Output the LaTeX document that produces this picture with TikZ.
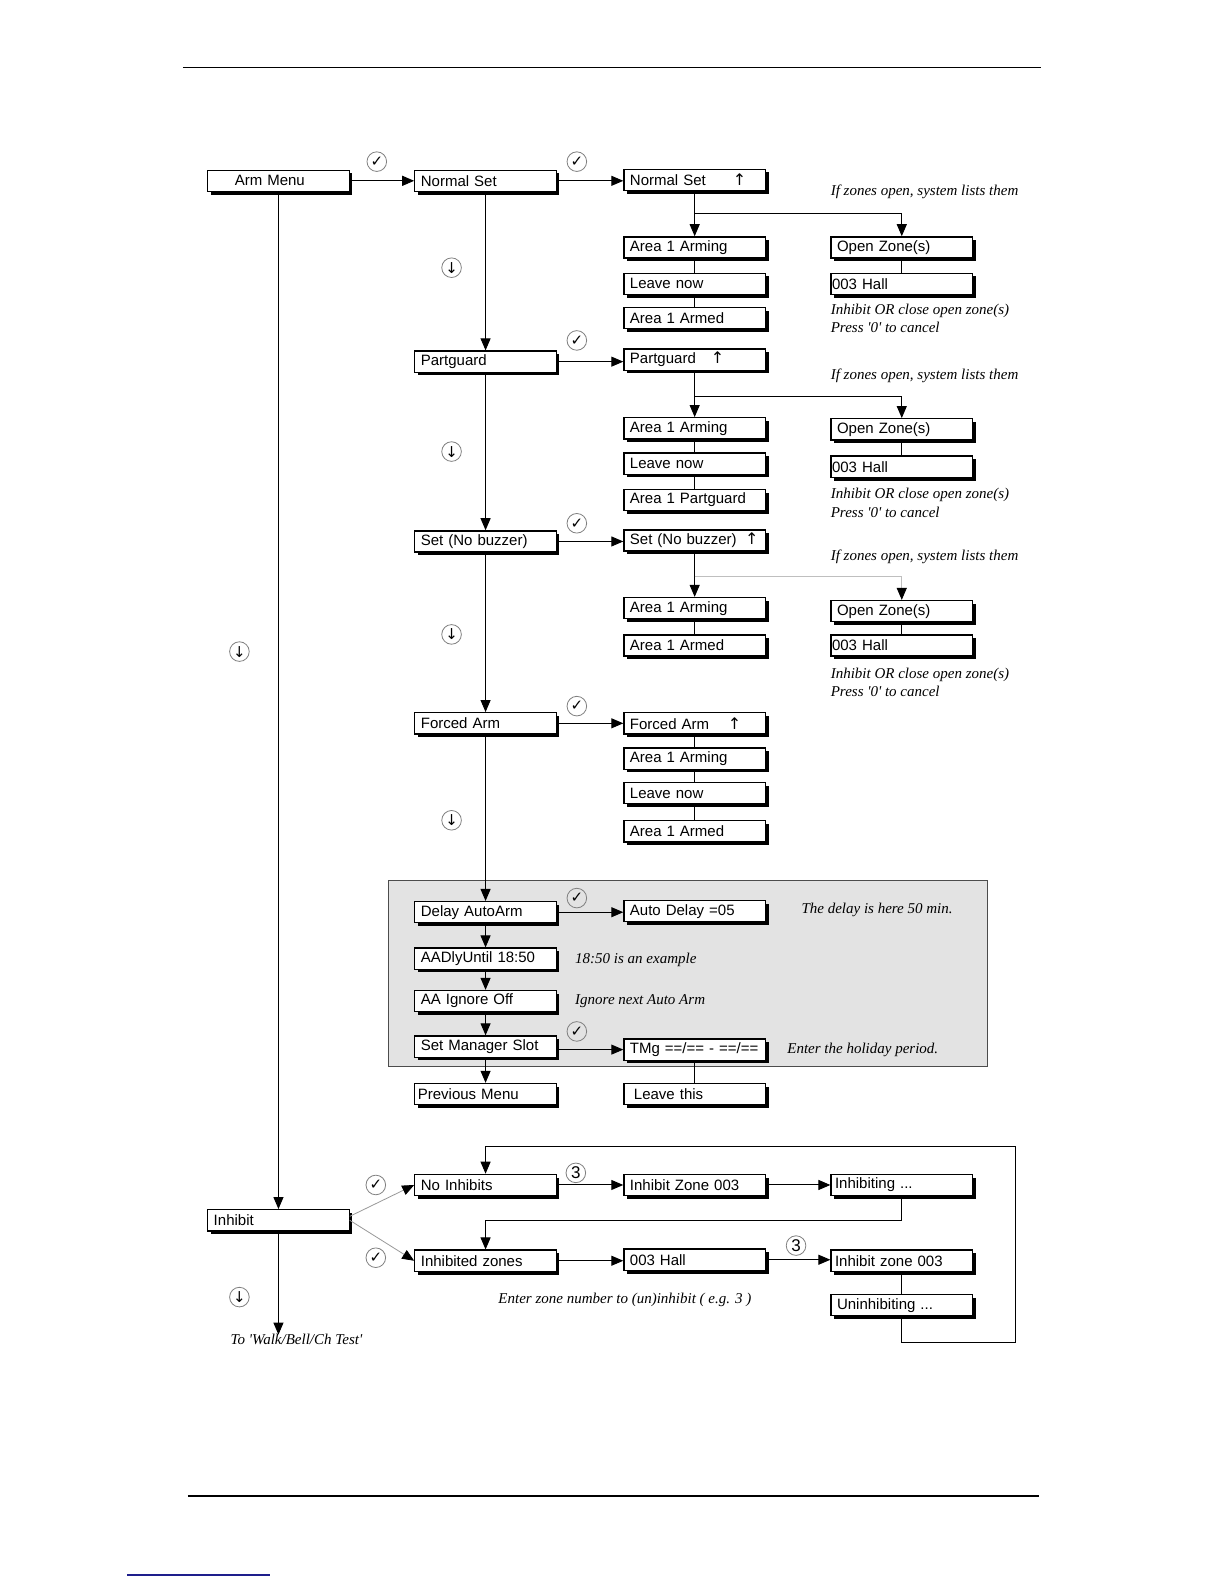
\documentclass[tikz,border=0pt]{standalone}
\usepackage{fontspec}
\setmainfont{Liberation Serif}
\setsansfont{Liberation Sans}
\newfontfamily\symf{DejaVu Sans}
\usetikzlibrary{arrows.meta,shadows,calc}
\definecolor{panel}{gray}{0.89}
\definecolor{linkblue}{RGB}{30,30,140}
\newcommand{\upar}{{\symf\fontsize{8}{8}\selectfont ↑}}
\newcommand{\uptext}[2]{\makebox[#1][l]{#2}\upar}
\newcommand{\sq}{\textquotesingle}
\begin{document}
\begin{tikzpicture}[x=0.50495pt,y=-0.50495pt,
  bx/.style={draw, line width=0.65pt, fill=white, anchor=west,
    minimum height=10.6pt, inner ysep=0pt, inner xsep=3pt,
    text width=64.7pt, align=left,
    font=\sffamily\fontsize{7.5}{9}\selectfont,
    drop shadow={shadow xshift=1.6pt, shadow yshift=-1.6pt, opacity=1, fill=black}},
  ln/.style={line width=0.5pt},
  arr/.style={ln, -{Triangle[length=6pt,width=5pt]}},
  garr/.style={line width=0.4pt, draw=black!40, -{Triangle[length=6pt,width=5pt,color=black]}},
  gln/.style={line width=0.5pt, draw=black!25},
  ck/.style={circle, draw=black!50, line width=0.4pt, minimum size=9.8pt, inner sep=0pt,
    font=\symf\fontsize{7.5}{7.5}\selectfont},
  num/.style={circle, draw=black!50, line width=0.4pt, minimum size=9.8pt, inner sep=0pt,
    font=\sffamily\fontsize{8.5}{9}\selectfont},
  ann/.style={anchor=west, inner sep=0pt, font=\itshape\fontsize{7.5}{9}\selectfont}]

\fill[white] (0,0) rectangle (1212,1568);
\useasboundingbox (0,0) rectangle (1212,1568);

% page rules
\draw[line width=0.8pt] (181,67) -- (1030,67);
\draw[line width=0.8pt] (186,1481) -- (1028,1481);
\draw[line width=0.6pt, draw=linkblue] (126,1559) -- (267,1559);

% grey panel
\draw[draw=black!70, line width=0.5pt, fill=panel] (385,872) rectangle (978,1056);

% column A
\node[bx] (am) at (205,179) {\hspace*{10.5pt}Arm Menu};
\node[bx] (inh) at (205,1208) {Inhibit};

% column B
\node[bx] (ns) at (410,179) {Normal Set};
\node[bx] (pg) at (410,358) {Partguard};
\node[bx] (snb) at (410,536) {Set (No buzzer)};
\node[bx] (fa) at (410,716) {Forced Arm};
\node[bx] (daa) at (410,903) {Delay AutoArm};
\node[bx] (aad) at (410,949) {AADlyUntil 18:50};
\node[bx] (aai) at (410,991) {AA Ignore Off};
\node[bx] (sms) at (410,1036) {Set Manager Slot};
\node[bx] (pm) at (410,1083) {\hspace*{-1.5pt}Previous Menu};
\node[bx] (ni) at (410,1173) {No Inhibits};
\node[bx] (iz) at (410,1248) {Inhibited zones};

% column C
\node[bx] (nsu) at (617,178) {\uptext{51.5pt}{Normal Set}};
\node[bx] (c11) at (617,245) {Area 1 Arming};
\node[bx] (c12) at (617,281) {Leave now};
\node[bx] (c13) at (617,315) {Area 1 Armed};
\node[bx] (pgu) at (617,356) {\uptext{40.4pt}{Partguard}};
\node[bx] (c21) at (617,424) {Area 1 Arming};
\node[bx] (c22) at (617,459) {Leave now};
\node[bx] (c23) at (617,495) {Area 1 Partguard};
\node[bx] (snbu) at (617,535) {\uptext{57.6pt}{Set (No buzzer)}};
\node[bx] (c31) at (617,602) {Area 1 Arming};
\node[bx] (c32) at (617,639) {Area 1 Armed};
\node[bx] (fau) at (617,716) {\uptext{49pt}{Forced Arm}};
\node[bx] (c41) at (617,751) {Area 1 Arming};
\node[bx] (c42) at (617,785) {Leave now};
\node[bx] (c43) at (617,823) {Area 1 Armed};
\node[bx] (ad) at (617,902) {Auto Delay =05};
\node[bx] (tmg) at (617,1039) {TMg ==/== - ==/==};
\node[bx] (lt) at (617,1083) {\hspace*{2pt}Leave this};
\node[bx] (iz3) at (617,1173) {Inhibit Zone 003};
\node[bx] (h3) at (617,1247) {003 Hall};

% column D
\node[bx] (d11) at (822,245) {Open Zone(s)};
\node[bx] (d12) at (822,281) {\hspace*{-2.5pt}003 Hall};
\node[bx] (d21) at (822,425) {Open Zone(s)};
\node[bx] (d22) at (822,462) {\hspace*{-2.5pt}003 Hall};
\node[bx] (d31) at (822,605) {Open Zone(s)};
\node[bx] (d32) at (822,639) {\hspace*{-2.5pt}003 Hall};
\node[bx] (ing) at (822,1173) {\hspace*{-1pt}Inhibiting ...};
\node[bx] (izd) at (822,1248) {\hspace*{-1pt}Inhibit zone 003};
\node[bx] (unh) at (822,1292) {Uninhibiting ...};

% annotations
\node[ann] (t1) at (822,190) {If zones open, system lists them};
\node[ann] (t2) at (822,308) {Inhibit OR close open zone(s)};
\node[ann] (t3) at (822,324) {Press \sq0\sq{} to cancel};
\node[ann] (t4) at (822,372) {If zones open, system lists them};
\node[ann] (t5) at (822,490) {Inhibit OR close open zone(s)};
\node[ann] (t6) at (822,507) {Press \sq0\sq{} to cancel};
\node[ann] (t7) at (822,551) {If zones open, system lists them};
\node[ann] (t8) at (822,668) {Inhibit OR close open zone(s)};
\node[ann] (t9) at (822,684) {Press \sq0\sq{} to cancel};
\node[ann] (t10) at (793,901) {The delay is here 50 min.};
\node[ann] (t11) at (569,950) {18:50 is an example};
\node[ann] (t12) at (569,991) {Ignore next Auto Arm};
\node[ann] (t13) at (779,1039) {Enter the holiday period.};
\node[ann] (t14) at (493,1287) {Enter zone number to (un)inhibit ( e.g. 3 )};
\node[ann] (t15) at (228,1326) {To \sq Walk/Bell/Ch Test\sq};

% circles
\node[ck] (k1) at (373,160) {✓};
\node[ck] (k2) at (571,160) {✓};
\node[ck] (k3) at (571,337) {✓};
\node[ck] (k4) at (571,518) {✓};
\node[ck] (k5) at (571,699) {✓};
\node[ck] (k6) at (571,889) {✓};
\node[ck] (k7) at (571,1021) {✓};
\node[ck] (k8) at (372,1173) {✓};
\node[ck] (k9) at (372,1245) {✓};
\node[ck] (w1) at (447,265) {↓};
\node[ck] (w2) at (447,447) {↓};
\node[ck] (w3) at (447,628) {↓};
\node[ck] (w4) at (447,812) {↓};
\node[ck] (w5) at (237,645) {↓};
\node[ck] (w6) at (237,1284) {↓};
\node[num] (n1) at (570,1161) {3};
\node[num] (n2) at (788,1233) {3};

% horizontal arrows
\draw[arr] (am.east) -- (ns.west);
\draw[arr] (ns.east) -- (ns.east -| nsu.west);
\draw[arr] (pg.east) -- (pg.east -| pgu.west);
\draw[arr] (snb.east) -- (snb.east -| snbu.west);
\draw[arr] (fa.east) -- (fau.west);
\draw[arr] (daa.east) -- (daa.east -| ad.west);
\draw[arr] (sms.east |- tmg.west) -- (tmg.west);
\draw[arr] (ni.east) -- (iz3.west);
\draw[arr] (iz3.east) -- (ing.west);
\draw[arr] (iz.east) -- (iz.east -| h3.west);
\draw[arr] (h3.east) -- (h3.east -| izd.west);

% main verticals
\draw[arr] (ns.south) -- (pg.north);
\draw[arr] (pg.south) -- (snb.north);
\draw[arr] (snb.south) -- (fa.north);
\draw[arr] (fa.south) -- (daa.north);
\draw[arr] (daa.south) -- (aad.north);
\draw[arr] (aad.south) -- (aai.north);
\draw[arr] (aai.south) -- (sms.north);
\draw[arr] (sms.south) -- (pm.north);
\draw[arr] (am.south) -- (inh.north);
\coordinate (walk) at ($(inh.south)+(0,102)$);
\draw[arr] (inh.south) -- (walk);

% branches column C / D
\coordinate (j1) at ($(nsu.south)!0.5!(c11.north)$);
\draw[arr] (nsu.south) -- (c11.north);
\draw[arr] (j1) -| (d11.north);
\draw[ln] (c11.south) -- (c12.north);
\draw[ln] (c12.south) -- (c13.north);
\draw[ln] (d11.south) -- (d12.north);

\coordinate (j2) at ($(pgu.south)!0.55!(c21.north)$);
\draw[arr] (pgu.south) -- (c21.north);
\draw[arr] (j2) -| (d21.north);
\draw[ln] (c21.south) -- (c22.north);
\draw[ln] (c22.south) -- (c23.north);
\draw[ln] (d21.south) -- (d22.north);

\coordinate (j3) at ($(snbu.south)!0.55!(c31.north)$);
\draw[arr] (snbu.south) -- (c31.north);
\draw[gln, -{Triangle[length=6pt,width=5pt,color=black]}] (j3) -| (d31.north);
\draw[ln] (c31.south) -- (c32.north);
\draw[ln] (d31.south) -- (d32.north);

\draw[ln] (fau.south) -- (c41.north);
\draw[ln] (c41.south) -- (c42.north);
\draw[ln] (c42.south) -- (c43.north);

\draw[ln] (tmg.south) -- (lt.north);
\draw[ln] (izd.south) -- (unh.north);

% inhibit branches
\draw[garr] ($(inh.east)+(0,-4)$) -- (ni.west);
\draw[garr] (inh.east) -- (iz.west);

% loops
\coordinate (l1) at ($(iz.north)+(0,-29)$);
\draw[arr] (ing.south) |- (l1) -- (iz.north);
\coordinate (l2a) at (1005,1329);
\coordinate (l2b) at ($(ni.north)+(0,-27)$);
\draw[arr] (unh.south) |- (l2a) |- (l2b) -- (ni.north);

\end{tikzpicture}
\end{document}
